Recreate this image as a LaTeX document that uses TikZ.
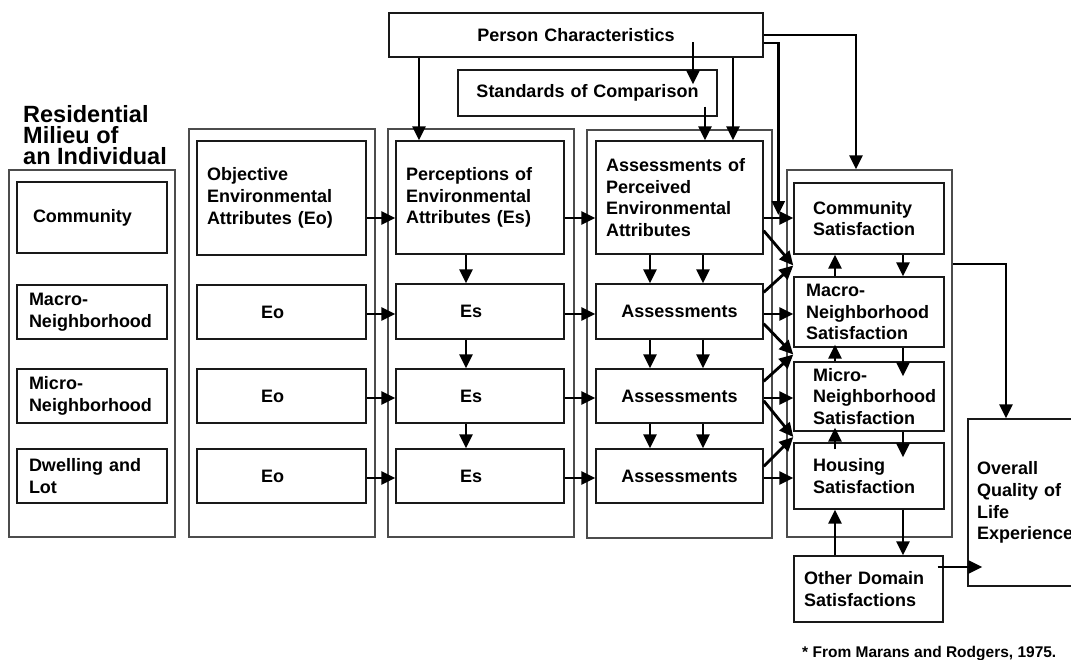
\documentclass[tikz,border=0pt]{standalone}
\usepackage{fontspec}
\setmainfont{Liberation Sans}
\usetikzlibrary{arrows.meta,calc}
\newcommand\mainf{\fontsize{18}{21.7}\selectfont\bfseries\hyphenpenalty=10000\exhyphenpenalty=10000}
\newcommand\titlef{\fontsize{23.5}{21}\selectfont\bfseries}
\newcommand\notef{\fontsize{15.5}{18}\selectfont\bfseries}
\newcommand\mkbox[8]{%
  \pgfmathsetmacro\bw{#5-#3}%
  \pgfmathsetmacro\bh{#6-#4}%
  \pgfmathsetmacro\tw{#5-#3-2*#7}%
  \node[#1, minimum width=\bw pt, minimum height=\bh pt, text width=\tw pt] (#2) at ({(#3+#5)/2},{(#4+#6)/2}) {#8};}
\begin{document}
\begin{tikzpicture}[x=1pt,y=-1pt,
  ibox/.style={draw=black!90, line width=1.4pt, inner sep=0pt, font=\mainf, align=left},
  cbox/.style={ibox, align=center},
  obox/.style={draw=black!70, line width=1.4pt, inner sep=0pt},
  arr/.style={draw=black, line width=2.8pt, -{Triangle[length=14pt,width=13pt]}}]
\useasboundingbox (0,0) rectangle (1071,659);
\clip (0,0) rectangle (1071,659);
\fill[white] (0,0) rectangle (1071,659);

% outer column boxes
\mkbox{obox}{res}{9}{170}{175}{537}{0}{}
\mkbox{obox}{oout}{189}{129}{375}{537}{0}{}
\mkbox{obox}{pout}{388}{129}{574}{537}{0}{}
\mkbox{obox}{aout}{587}{130}{772}{538}{0}{}
\mkbox{obox}{sout}{787}{170}{952}{537}{0}{}

% title
\node[font=\titlef, align=left, anchor=north west, inner sep=0pt] (title) at (23,105.5) {Residential\\Milieu of\\an Individual};

% residential milieu column
\mkbox{ibox}{rcom}{17}{182}{167}{253}{16}{Community}
\mkbox{ibox}{rmac}{17}{285}{167}{339}{12}{Macro-\\Neighborhood}
\mkbox{ibox}{rmic}{17}{369}{167}{423}{12}{Micro-\\Neighborhood}
\mkbox{ibox}{rdwl}{17}{449}{167}{503}{12}{Dwelling and\\Lot}

% objective column
\mkbox{ibox}{o1}{197}{141}{366}{255}{10}{Objective\\Environmental\\Attributes (Eo)}
\mkbox{ibox}{o2}{197}{285}{366}{339}{64}{Eo}
\mkbox{ibox}{o3}{197}{369}{366}{423}{64}{Eo}
\mkbox{ibox}{o4}{197}{449}{366}{503}{64}{Eo}

% perception column
\mkbox{ibox}{p1}{396}{141}{564}{254}{10}{Perceptions of\\Environmental\\Attributes (Es)}
\mkbox{ibox}{p2}{396}{284}{564}{339}{64}{Es}
\mkbox{ibox}{p3}{396}{369}{564}{423}{64}{Es}
\mkbox{ibox}{p4}{396}{449}{564}{503}{64}{Es}

% assessment column
\mkbox{ibox}{a1}{596}{141}{763}{254}{10}{Assessments of\\Perceived\\Environmental\\Attributes}
\mkbox{cbox}{a2}{596}{284}{763}{339}{0}{Assessments}
\mkbox{cbox}{a3}{596}{369}{763}{423}{0}{Assessments}
\mkbox{cbox}{a4}{596}{449}{763}{503}{0}{Assessments}

% satisfaction column
\mkbox{ibox}{s1}{794}{183}{944}{254}{19}{Community\\Satisfaction}
\mkbox{ibox}{s2}{794}{277}{944}{347}{12}{Macro-\\Neighborhood\\Satisfaction}
\mkbox{ibox}{s3}{794}{362}{944}{431}{19}{Micro-\\Neighborhood\\Satisfaction}
\mkbox{ibox}{s4}{794}{443}{944}{509}{19}{Housing\\Satisfaction}

% other boxes
\mkbox{ibox}{oth}{794}{556}{943}{622}{10}{Other Domain\\Satisfactions}
\mkbox{ibox}{ovr}{968}{419}{1090}{586}{9}{Overall\\Quality of\\Life\\Experience}
\mkbox{cbox}{pc}{389}{13}{763}{57}{0}{Person Characteristics}
\mkbox{cbox}{std}{458}{70}{717}{116}{0}{Standards of Comparison}

\node[font=\notef, anchor=base west, inner sep=0pt] (note) at (802,657) {* From Marans and Rodgers, 1975.};

% helper coordinates
\coordinate (xP1) at (419,0);
\coordinate (xS1) at (693,0);
\coordinate (xS2) at (705,0);
\coordinate (xA1) at (733,0);
\coordinate (xC) at (856,0);
\coordinate (xPv) at (466,0);
\coordinate (xAv1) at (650,0);
\coordinate (xAv2) at (703,0);
\coordinate (xUp) at (835,0);
\coordinate (xDn) at (903,0);
\coordinate (xO) at (1006,0);
\coordinate (r1) at (0,218);
\coordinate (r2) at (0,314);
\coordinate (r3) at (0,398);
\coordinate (r4) at (0,478);
\coordinate (r5) at (0,567);
\coordinate (r6) at (0,264);

% person characteristics arrows
\draw[arr] (pc.south -| xP1) -- (p1.north -| xP1);
\draw[arr] ($(pc.center -| xS1)+(0,7)$) -- ($(std.north -| xS1)+(0,15)$);
\draw[arr] ($(std.south -| xS2)+(0,-10)$) -- (a1.north -| xS2);
\draw[arr] (pc.south -| xA1) -- (a1.north -| xA1);
\draw[arr] (pc.east) -| (sout.north -| xC);
\draw[arr] ($(pc.east)+(0,8)$) -| ($(s1.west |- r1)+(-15,-3)$);

% row arrows
\foreach \r [count=\i] in {r1,r2,r3,r4}{
  \draw[arr] (o\i.east |- \r) -- (p\i.west |- \r);
  \draw[arr] (p\i.east |- \r) -- (a\i.west |- \r);
  \draw[arr] (a\i.east |- \r) -- (s\i.west |- \r);
}

% vertical arrows in perception and assessment columns
\foreach \i/\j in {1/2,2/3,3/4}{
  \draw[arr] (p\i.south -| xPv) -- (p\j.north -| xPv);
  \draw[arr] (a\i.south -| xAv1) -- (a\j.north -| xAv1);
  \draw[arr] (a\i.south -| xAv2) -- (a\j.north -| xAv2);
}

% diagonal arrows into the gaps of the satisfaction column
\coordinate (g1) at ($(s1.south west)!.5!(s2.north west)$);
\coordinate (g2) at ($(s2.south west)!.5!(s3.north west)$);
\coordinate (g3) at ($(s3.south west)!.5!(s4.north west)$);
\draw[arr] ($(a1.south east)+(0,-24)$) -- (g1);
\draw[arr] ($(a2.north east)+(0,9)$) -- (g1);
\draw[arr] ($(a2.south east)+(0,-16)$) -- (g2);
\draw[arr] ($(a3.north east)+(0,13)$) -- (g2);
\draw[arr] ($(a3.south east)+(0,-23)$) -- (g3);
\draw[arr] ($(a4.north east)+(0,18)$) -- (g3);

% arrows within the satisfaction column
\draw[arr] (s2.north -| xUp) -- (s1.south -| xUp);
\draw[arr] (s1.south -| xDn) -- (s2.north -| xDn);
\draw[arr] (s3.north -| xUp) -- ($(s2.south -| xUp)+(0,-3)$);
\draw[arr] (s2.south -| xDn) -- ($(s3.north -| xDn)+(0,15)$);
\draw[arr] ($(s4.north -| xUp)+(0,7)$) -- ($(s3.south -| xUp)+(0,-4)$);
\draw[arr] (s3.south -| xDn) -- ($(s4.north -| xDn)+(0,15)$);
\draw[arr] (oth.north -| xUp) -- (s4.south -| xUp);
\draw[arr] (s4.south -| xDn) -- (oth.north -| xDn);

% to overall quality of life
\draw[arr] ($(oth.east |- r5)+(-6,0)$) -- ($(ovr.west |- r5)+(15,0)$);
\draw[arr] (sout.east |- r6) -| (ovr.north -| xO);
\end{tikzpicture}
\end{document}
